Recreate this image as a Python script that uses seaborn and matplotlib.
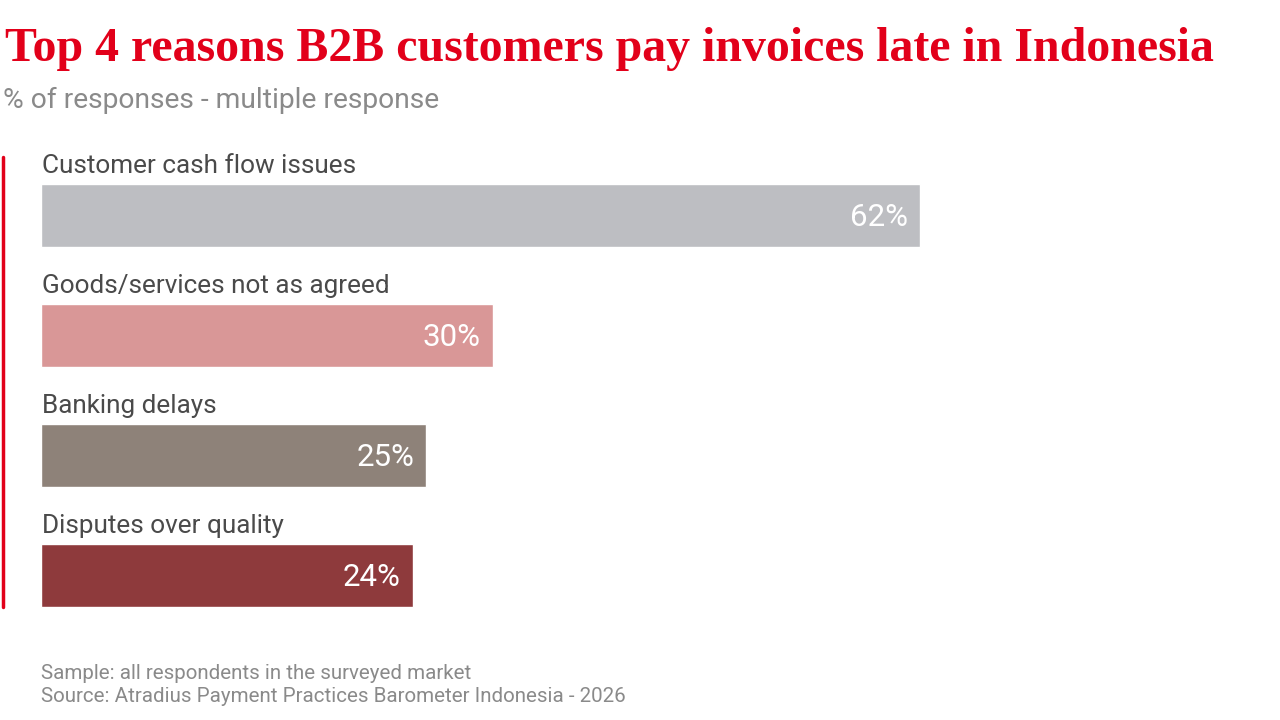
import matplotlib
matplotlib.use('Agg')
import matplotlib.pyplot as plt
import seaborn as sns
import pandas as pd

reasons = ['Customer cash flow issues', 'Goods/services not as agreed', 'Banking delays', 'Disputes over quality']
share = [62, 30, 25, 24]
bar_colors = ['#BDBEC2', '#D99797', '#8E8279', '#8E3A3C']

title = 'Top 4 reasons B2B customers pay invoices late in Indonesia'
subtitle = '% of responses - multiple response'
footer = ['Sample: all respondents in the surveyed market',
          'Source: Atradius Payment Practices Barometer Indonesia - 2026']

W, H = 1280, 720
sns.set_style('white')
plt.rcParams['font.family'] = ['Roboto', 'DejaVu Sans']

fig = plt.figure(figsize=(W / 100, H / 100), dpi=100)
# bars in the original start a little left of zero, so the x origin sits right of the axes edge
px_per_unit = 13.34
x0 = -3.875
x1 = 70
left = 41
right = left + (x1 - x0) * px_per_unit
top, bottom = 95.5, 635.5
ax = fig.add_axes([left / W, 1 - bottom / H, (right - left) / W, (bottom - top) / H])

df = pd.DataFrame({'reason': reasons, 'share': share})
sns.barplot(data=df, x='share', y='reason', hue='reason', palette=bar_colors,
            legend=False, orient='h', width=0.525, ax=ax, saturation=1)
for p in ax.patches:
    w = p.get_width()
    p.set_x(x0)
    p.set_width(w - x0)
ax.set_xlim(x0, x1)
ax.set_ylim(3.5, -1.0)
ax.axis('off')

for i, (r, v) in enumerate(zip(reasons, share)):
    ax.text(x0 + 0.05, i - 0.2625 - 0.09, r, ha='left', va='baseline',
            fontsize=18.8, color='#4A4A4A')
    ax.text(v - 0.9, i + 0.02, f'{v}%', ha='right', va='center',
            fontsize=22.5, color='white')

# red accent line on the left
fig.add_artist(plt.Line2D([2.5 / W, 2.5 / W], [1 - 157 / H, 1 - 607 / H],
                          color='#E2001A', lw=2.5))

fig.text(5 / W, 1 - 61 / H, title, ha='left', va='baseline',
         fontsize=34.5, fontweight='bold', color='#E2001A',
         family=['Liberation Serif', 'DejaVu Serif'])
fig.text(3 / W, 1 - 108 / H, subtitle, ha='left', va='baseline',
         fontsize=20.3, color='#8A8A8A')
fig.text(41 / W, 1 - 679 / H, footer[0], ha='left', va='baseline',
         fontsize=14.8, color='#8A8A8A')
fig.text(41 / W, 1 - 702 / H, footer[1], ha='left', va='baseline',
         fontsize=14.8, color='#8A8A8A')

fig.savefig('out.png', dpi=100)
